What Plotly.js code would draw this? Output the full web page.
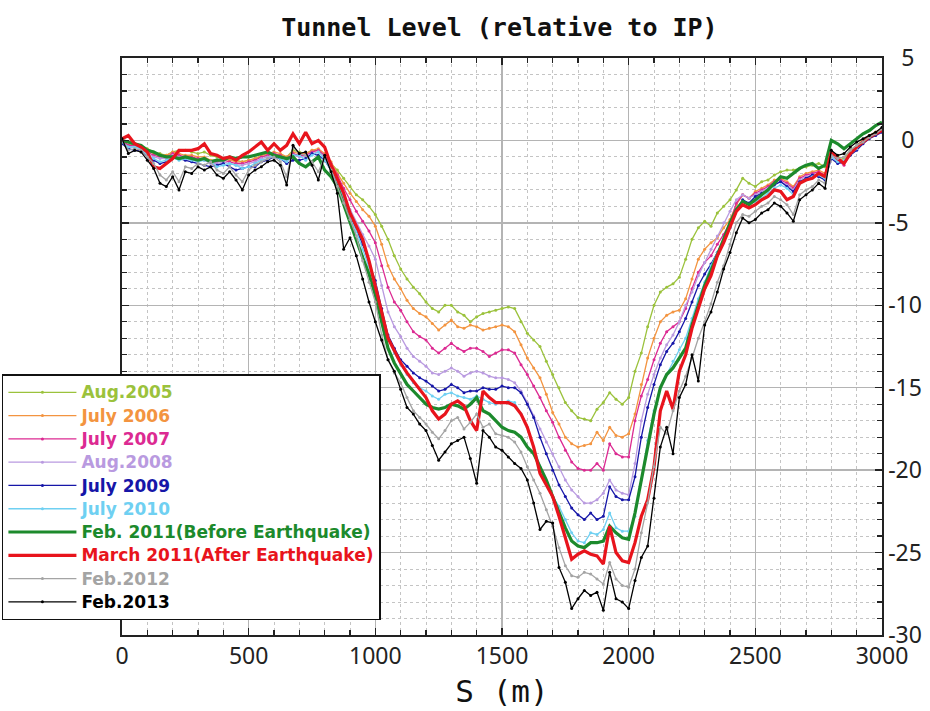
<!DOCTYPE html>
<html>
<head>
<meta charset="utf-8">
<script src="https://cdn.plot.ly/plotly-3.0.1.min.js"></script>
<style>
  html, body { margin: 0; padding: 0; background: #fff; }
  #chart { width: 930px; height: 711px; }
</style>
</head>
<body>
<div id="chart"></div>
<script>
// Survey stations along the ring, every 25 m from 0 to 3000 m
const stations = Array.from({length: 121}, (_, i) => i * 25);

// Tunnel floor level relative to IP (mm), one array per survey
const aug2005 = [
  0.0,-0.3,-0.2,-0.3,-0.5,-0.7,-0.8,-0.9,-0.7,-0.6,-0.6,-0.7,-0.8,-0.7,-0.9,-1.0,-1.1,-1.2,-1.2,-1.3,
  -1.2,-1.1,-1.0,-0.9,-0.8,-0.9,-1.0,-0.6,-0.7,-0.8,-0.6,-0.6,-1.0,-1.4,-1.8,-2.3,-2.8,-3.3,-3.6,-4.0,
  -4.5,-5.2,-6.0,-7.0,-7.8,-8.4,-8.9,-9.3,-9.8,-10.2,-10.4,-10.0,-10.0,-10.4,-10.6,-11.0,-10.7,-10.5,-10.4,-10.3,
  -10.2,-10.1,-10.2,-11.0,-11.7,-12.1,-12.5,-13.4,-14.2,-15.0,-15.9,-16.4,-16.8,-16.9,-17.0,-16.3,-15.9,-15.3,-15.7,-16.0,
  -15.6,-14.0,-12.9,-11.3,-10.0,-9.2,-8.9,-8.7,-8.3,-7.2,-6.0,-5.3,-4.9,-5.2,-4.4,-4.0,-3.6,-3.0,-2.3,-2.6,
  -2.8,-2.5,-2.4,-2.1,-1.9,-1.8,-1.8,-1.7,-1.6,-1.5,-1.4,-1.6,-0.8,-1.0,-1.1,-0.6,-0.3,0.0,0.3,0.5,
  0.7
];
const jul2006 = [
  0.0,-0.3,-0.3,-0.4,-0.6,-0.8,-0.9,-0.9,-0.7,-0.8,-0.9,-0.9,-1.0,-1.0,-1.2,-1.2,-1.1,-1.2,-1.3,-1.3,
  -1.2,-1.1,-0.9,-0.8,-0.7,-0.8,-1.0,-0.7,-0.8,-0.8,-0.6,-0.5,-0.8,-1.3,-2.0,-2.6,-3.2,-3.7,-4.2,-4.6,
  -5.2,-6.3,-7.6,-8.4,-9.0,-9.7,-10.2,-10.5,-10.7,-11.1,-11.5,-11.2,-10.9,-11.3,-11.4,-11.2,-11.3,-11.5,-11.4,-11.3,
  -11.2,-11.3,-11.6,-12.4,-13.2,-13.8,-14.4,-15.4,-16.5,-17.2,-18.0,-18.4,-18.6,-18.5,-18.4,-17.7,-18.2,-17.4,-17.9,-18.0,
  -17.8,-16.6,-14.8,-13.2,-12.0,-11.0,-10.6,-10.4,-10.3,-9.6,-8.4,-7.2,-6.6,-6.2,-5.9,-5.3,-4.8,-3.9,-3.3,-3.5,
  -3.1,-2.9,-2.7,-2.4,-2.3,-2.5,-2.8,-2.2,-2.0,-1.9,-1.8,-2.0,-0.8,-1.1,-1.2,-0.7,-0.4,0.0,0.3,0.5,
  0.7
];
const jul2007 = [
  0.0,-0.3,-0.3,-0.4,-0.7,-0.9,-1.0,-1.0,-0.8,-0.9,-1.0,-1.0,-1.1,-1.1,-1.3,-1.3,-1.2,-1.3,-1.4,-1.4,
  -1.3,-1.2,-1.0,-0.9,-0.8,-0.9,-1.1,-0.8,-0.9,-0.9,-0.7,-0.6,-0.9,-1.4,-2.1,-2.9,-3.6,-4.3,-4.9,-5.5,
  -6.2,-7.6,-8.9,-9.8,-10.3,-11.0,-11.6,-11.9,-12.1,-12.6,-12.9,-12.6,-12.3,-12.6,-12.8,-12.6,-12.6,-12.8,-13.1,-12.9,
  -12.7,-12.7,-12.9,-13.6,-14.2,-14.9,-15.6,-16.4,-17.1,-18.0,-18.8,-19.5,-19.9,-20.0,-20.0,-19.6,-20.0,-18.4,-19.0,-19.2,
  -19.2,-17.0,-15.5,-14.5,-13.3,-12.3,-11.6,-11.3,-11.0,-10.2,-9.0,-8.0,-7.4,-7.0,-6.3,-5.7,-5.0,-3.8,-3.3,-3.5,
  -3.2,-3.0,-2.8,-2.5,-2.4,-2.6,-2.9,-2.3,-2.1,-2.0,-1.9,-2.1,-0.8,-1.2,-1.5,-0.8,-0.4,-0.1,0.2,0.4,
  0.6
];
const aug2008 = [
  -0.1,-0.4,-0.4,-0.5,-0.8,-1.0,-1.1,-1.1,-0.9,-1.0,-1.0,-1.1,-1.2,-1.2,-1.4,-1.4,-1.3,-1.4,-1.5,-1.5,
  -1.4,-1.3,-1.1,-1.0,-0.9,-1.0,-1.2,-0.9,-1.0,-1.0,-0.8,-0.7,-1.0,-1.6,-2.4,-3.4,-4.2,-5.0,-5.7,-6.4,
  -7.2,-8.8,-10.4,-11.3,-11.9,-12.6,-13.1,-13.4,-13.7,-14.1,-14.2,-14.0,-13.8,-14.0,-14.3,-14.1,-14.0,-14.1,-14.3,-14.4,
  -14.4,-14.5,-14.7,-15.2,-15.9,-16.7,-17.5,-18.3,-19.0,-19.8,-20.6,-21.2,-21.6,-22.0,-22.0,-21.8,-21.4,-20.6,-21.2,-21.4,
  -21.5,-19.6,-17.0,-15.4,-14.2,-13.2,-12.4,-11.8,-11.0,-10.0,-9.2,-8.2,-7.4,-6.6,-5.8,-5.0,-4.3,-3.6,-3.3,-3.5,
  -3.3,-3.1,-2.9,-2.6,-2.5,-2.7,-3.0,-2.4,-2.2,-2.1,-2.0,-2.2,-0.9,-1.3,-1.4,-0.8,-0.5,-0.1,0.2,0.4,
  0.6
];
const jul2009 = [
  -0.2,-0.5,-0.6,-0.6,-1.0,-1.2,-1.4,-1.3,-1.0,-1.1,-1.2,-1.3,-1.4,-1.5,-1.6,-1.5,-1.4,-1.6,-1.8,-1.7,
  -1.6,-1.6,-1.3,-1.2,-1.0,-1.1,-1.4,-1.2,-1.2,-1.1,-0.8,-0.9,-1.2,-1.8,-2.6,-3.6,-4.6,-5.4,-6.3,-7.4,
  -8.5,-10.2,-11.8,-12.6,-13.3,-13.7,-14.1,-14.4,-14.6,-14.9,-15.2,-15.1,-14.8,-15.0,-15.3,-15.2,-15.2,-15.0,-15.1,-15.1,
  -14.9,-15.0,-15.0,-15.3,-16.0,-16.8,-18.0,-19.0,-20.0,-20.9,-21.6,-22.3,-22.7,-23.0,-22.6,-23.0,-22.8,-21.0,-21.6,-21.8,
  -21.8,-20.4,-18.0,-16.2,-14.8,-13.6,-12.8,-12.3,-11.6,-10.8,-9.8,-8.8,-8.1,-7.5,-6.8,-6.1,-5.3,-4.2,-3.6,-3.8,
  -3.4,-3.2,-3.0,-2.7,-2.5,-2.8,-3.1,-2.5,-2.3,-2.1,-2.2,-2.4,-1.1,-1.4,-1.3,-0.9,-0.6,-0.2,0.1,0.3,
  0.5
];
const jul2010 = [
  -0.1,-0.4,-0.4,-0.5,-0.9,-1.1,-1.3,-1.2,-1.0,-1.2,-1.1,-1.2,-1.3,-1.2,-1.3,-1.6,-1.5,-1.4,-1.5,-1.7,
  -1.6,-1.4,-1.2,-1.1,-0.9,-1.1,-1.3,-0.9,-0.9,-1.2,-0.9,-0.7,-1.2,-1.8,-2.5,-3.6,-4.7,-5.5,-6.6,-7.6,
  -8.8,-10.5,-12.0,-12.9,-13.6,-14.2,-14.7,-15.0,-15.2,-15.5,-15.7,-15.4,-15.3,-15.5,-15.6,-15.7,-15.5,-15.7,-15.9,-16.0,
  -15.9,-15.8,-15.9,-16.6,-17.4,-18.6,-19.8,-20.9,-21.6,-22.2,-23.0,-23.8,-24.3,-24.4,-23.8,-23.9,-23.6,-22.6,-23.5,-23.7,
  -23.7,-22.8,-20.6,-18.2,-16.4,-15.0,-14.2,-13.4,-12.7,-12.0,-10.8,-9.6,-8.6,-7.6,-6.8,-6.0,-5.2,-4.2,-3.7,-3.9,
  -3.7,-3.5,-3.2,-2.9,-2.7,-2.9,-3.3,-2.6,-2.4,-2.2,-2.1,-2.3,-1.0,-1.3,-1.2,-0.8,-0.5,-0.1,0.2,0.4,
  0.6
];
const feb2011 = [
  0.0,-0.1,-0.2,-0.3,-0.6,-0.7,-0.9,-1.0,-1.0,-1.1,-1.0,-1.1,-1.2,-1.1,-1.3,-1.2,-1.2,-1.0,-1.1,-1.0,
  -1.0,-0.9,-0.8,-0.7,-0.9,-1.0,-1.1,-1.0,-1.4,-1.6,-1.3,-1.0,-1.8,-2.2,-2.8,-3.9,-5.0,-6.0,-7.1,-8.1,
  -9.4,-11.0,-12.6,-13.5,-14.2,-14.8,-15.2,-15.6,-16.0,-16.2,-16.3,-16.2,-16.0,-16.1,-16.3,-16.0,-15.6,-16.4,-16.6,-17.0,
  -17.4,-17.6,-17.7,-18.0,-18.6,-19.0,-19.8,-20.6,-21.6,-22.6,-23.5,-24.3,-24.6,-24.7,-24.4,-24.4,-24.3,-23.4,-23.8,-24.1,
  -24.2,-22.6,-20.6,-18.4,-16.6,-15.0,-14.2,-13.8,-13.2,-12.6,-11.2,-10.0,-8.8,-7.9,-7.0,-6.0,-5.0,-4.2,-3.7,-3.9,
  -3.6,-3.3,-3.0,-2.6,-2.2,-2.3,-2.0,-1.7,-1.5,-1.4,-1.7,-1.5,0.0,-0.2,-0.5,-0.2,0.1,0.4,0.6,0.9,
  1.1
];
const mar2011 = [
  0.1,0.3,-0.2,-0.4,-0.7,-1.6,-1.7,-1.4,-1.1,-0.6,-0.6,-0.6,-0.5,-0.2,-0.8,-0.9,-1.1,-1.0,-1.2,-0.9,
  -0.7,-0.4,-0.1,-0.6,-0.2,-0.6,-0.3,0.4,-0.2,0.5,-0.2,0.0,-0.4,-1.5,-2.4,-3.2,-4.4,-5.2,-6.0,-7.3,
  -8.8,-10.4,-12.0,-12.8,-13.5,-14.1,-14.6,-15.1,-15.6,-16.4,-16.9,-16.6,-16.0,-15.8,-16.1,-17.0,-17.6,-15.2,-15.6,-15.9,
  -15.9,-15.9,-16.1,-16.6,-17.4,-18.6,-20.2,-20.9,-21.6,-22.8,-24.1,-25.4,-25.1,-24.9,-25.1,-25.2,-25.7,-23.4,-25.0,-25.5,
  -25.6,-24.4,-22.8,-21.8,-19.8,-16.4,-15.2,-16.3,-14.0,-13.0,-11.4,-10.2,-9.0,-8.2,-7.0,-6.2,-5.2,-4.3,-3.9,-4.1,
  -3.9,-3.6,-3.4,-3.0,-3.1,-3.6,-3.4,-2.6,-2.4,-2.3,-2.0,-2.2,-0.7,-1.1,-1.4,-0.8,-0.4,-0.1,0.2,0.4,
  0.6
];
const feb2012 = [
  0.0,-0.6,-0.5,-0.6,-1.0,-1.4,-2.1,-2.4,-1.9,-2.5,-1.6,-1.7,-1.4,-1.5,-1.3,-1.8,-2.0,-1.6,-2.1,-2.5,
  -1.8,-1.5,-1.3,-1.1,-1.0,-1.3,-2.2,-0.4,-0.8,-0.9,-1.3,-1.9,-1.0,-1.8,-2.8,-3.8,-4.8,-5.8,-7.3,-8.6,
  -9.8,-11.8,-13.3,-14.1,-14.7,-15.6,-16.4,-16.8,-17.2,-17.7,-18.1,-17.6,-17.0,-16.8,-17.5,-17.1,-16.6,-17.4,-17.2,-17.8,
  -17.9,-18.0,-18.3,-18.9,-19.8,-20.6,-21.4,-22.4,-23.4,-24.7,-25.8,-26.4,-26.5,-26.2,-26.3,-26.6,-26.9,-25.6,-26.6,-27.0,
  -27.1,-26.0,-23.8,-22.0,-19.8,-17.4,-17.8,-16.4,-15.2,-14.3,-13.2,-12.0,-11.0,-9.9,-8.6,-7.6,-6.3,-5.0,-4.5,-4.6,
  -4.3,-4.0,-3.8,-3.4,-3.6,-3.9,-4.5,-3.3,-3.0,-2.8,-2.4,-2.6,-0.9,-1.1,-1.0,-0.6,-0.3,-0.1,0.2,0.4,
  0.7
];
const feb2013 = [
  0.1,-0.8,-0.6,-0.7,-1.2,-1.7,-2.6,-2.8,-2.2,-3.0,-1.9,-2.0,-1.6,-1.8,-1.6,-2.1,-2.3,-1.9,-2.4,-3.0,
  -2.1,-1.8,-1.6,-1.3,-1.2,-1.5,-2.7,-0.3,-0.8,-0.7,-1.5,-2.4,-0.9,-1.9,-3.2,-6.6,-5.9,-7.0,-8.4,-9.8,
  -11.0,-12.1,-13.3,-14.0,-15.1,-16.2,-16.6,-17.2,-17.6,-18.5,-19.4,-18.9,-18.4,-18.2,-18.0,-19.3,-20.8,-17.6,-18.0,-18.6,
  -18.8,-19.2,-19.6,-19.9,-20.6,-22.0,-23.6,-23.1,-23.2,-25.9,-26.8,-28.4,-27.8,-27.3,-27.6,-27.4,-28.5,-26.2,-27.8,-28.0,
  -28.4,-26.7,-25.3,-24.6,-21.7,-18.6,-17.4,-19.0,-15.6,-14.8,-13.0,-14.6,-11.2,-10.4,-9.2,-7.8,-6.8,-5.6,-4.7,-5.0,
  -4.8,-4.4,-4.2,-3.8,-4.0,-4.4,-4.9,-3.6,-3.3,-3.0,-2.6,-2.9,-0.6,-0.9,-0.8,-0.4,-0.1,0.1,0.3,0.5,
  0.8
];

// Legend labels and line colours, in survey order
const surveyNames = [
  'Aug.2005', 'July 2006', 'July 2007', 'Aug.2008', 'July 2009', 'July 2010',
  'Feb. 2011(Before Earthquake)', 'March 2011(After Earthquake)', 'Feb.2012', 'Feb.2013'
];
const surveyColors = [
  '#9bc23c', '#f39440', '#dc2a92', '#b99ae0', '#1616a8', '#6fd0f2',
  '#1c8a2c', '#e8141c', '#a4a4a4', '#000000'
];
const surveyLevels = [aug2005, jul2006, jul2007, aug2008, jul2009, jul2010, feb2011, mar2011, feb2012, feb2013];
const heavy = [false, false, false, false, false, false, true, true, false, false];

const traces = surveyLevels.map((levels, i) => ({
  type: 'scatter',
  mode: heavy[i] ? 'lines' : 'lines+markers',
  x: stations,
  y: levels,
  name: '<span style="color:' + surveyColors[i] + ';font-size:17px">' + surveyNames[i] + '</span>',
  line: { color: surveyColors[i], width: heavy[i] ? 3.2 : 1.3 },
  marker: { color: surveyColors[i], size: 3 },
  hoverinfo: 'x+y'
}));

const yTicks = [5, 0, -5, -10, -15, -20, -25, -30];
const yTickText = ['\u20075', '\u20070', '-5', '-10', '-15', '-20', '-25', '-30'];
const xTicks = [0, 500, 1000, 1500, 2000, 2500, 3000];
const xTickText = ['0', '500', '1000', '1500', '2000', '2500', '3000'];

const tickFont = { family: 'Noto Sans, DejaVu Sans, sans-serif', size: 23, color: '#222' };

const layout = {
  width: 930,
  height: 711,
  margin: { l: 122, r: 48, t: 58, b: 76, autoexpand: false },
  paper_bgcolor: '#ffffff',
  plot_bgcolor: '#ffffff',
  showlegend: true,
  title: {
    text: 'Tunnel Level (relative to IP)',
    font: { family: 'DejaVu Sans Mono, monospace', size: 25, color: '#111', weight: 'bold' },
    x: 0.537, xanchor: 'center',
    y: 0.962, yanchor: 'middle'
  },
  xaxis: {
    range: [0, 3000],
    tickmode: 'array', tickvals: xTicks, ticktext: xTickText,
    tickfont: tickFont,
    ticks: 'inside', ticklen: 7, tickwidth: 1.3, tickcolor: '#222',
    showline: true, linecolor: '#222', linewidth: 1.6, mirror: 'allticks',
    showgrid: true, gridcolor: '#b4b4b4', gridwidth: 1.4,
    zeroline: false,
    minor: { dtick: 100, tick0: 0, ticks: 'inside', ticklen: 5, tickcolor: '#222',
             showgrid: true, gridcolor: '#c4c4c4', gridwidth: 1, griddash: 'dot' },
    title: { text: 'S (m)', font: { family: 'DejaVu Sans Mono, monospace', size: 31, color: '#111' }, standoff: 10 }
  },
  yaxis: {
    range: [-30, 5],
    side: 'right',
    tickmode: 'array', tickvals: yTicks, ticktext: yTickText,
    tickfont: tickFont,
    ticks: 'inside', ticklen: 7, tickwidth: 1.3, tickcolor: '#222',
    showline: true, linecolor: '#222', linewidth: 1.6, mirror: 'allticks',
    showgrid: true, gridcolor: '#b4b4b4', gridwidth: 1.4,
    zeroline: false,
    minor: { dtick: 1, tick0: 0, ticks: 'inside', ticklen: 5, tickcolor: '#222',
             showgrid: true, gridcolor: '#c4c4c4', gridwidth: 1, griddash: 'dot' }
  },
  legend: {
    x: -0.158, xanchor: 'left',
    y: 0.452, yanchor: 'top',
    bgcolor: '#ffffff', bordercolor: '#111', borderwidth: 1.5,
    font: { family: 'DejaVu Sans, Noto Sans, sans-serif', size: 15.6, weight: 'bold', color: '#000' },
    itemwidth: 68,
    traceorder: 'normal'
  }
};

Plotly.newPlot('chart', traces, layout, { displayModeBar: false, staticPlot: true });
</script>
</body>
</html>
